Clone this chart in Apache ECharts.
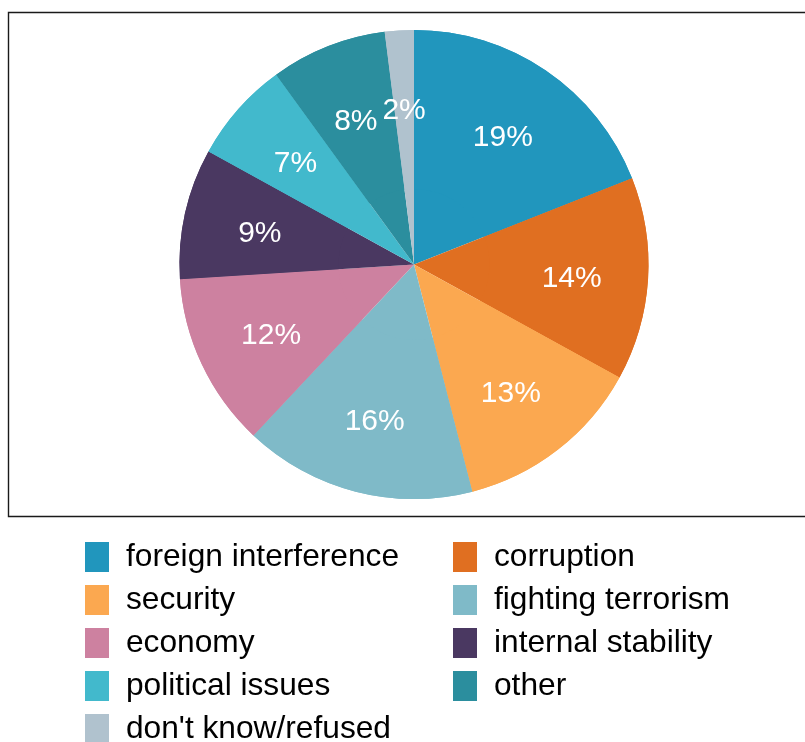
<!DOCTYPE html>
<html>
<head>
<meta charset="utf-8">
<script src="https://cdn.jsdelivr.net/npm/echarts@6/dist/echarts.min.js"></script>
<style>
  html, body { margin: 0; padding: 0; background: #ffffff; }
  #chart { width: 805px; height: 742px; }
</style>
</head>
<body>
<div id="chart"></div>
<script>
// Answer categories and their shares (percent), in slice order
const categories = [
  'foreign interference', 'corruption', 'security', 'fighting terrorism',
  'economy', 'internal stability', 'political issues', 'other', "don't know/refused"
];
const shares = [19, 14, 13, 16, 12, 9, 7, 8, 2];
const colors = [
  '#2196bd', '#e06f21', '#fba850', '#7fbac8',
  '#cd81a0', '#4a3861', '#42b9cc', '#2b8e9e', '#b0c2ce'
];
// Legend columns (filled row by row)
const legendLeft = ['foreign interference', 'security', 'economy', 'political issues', "don't know/refused"];
const legendRight = ['corruption', 'fighting terrorism', 'internal stability', 'other'];

const font = '"Liberation Sans", Arial, Helvetica, sans-serif';
const pieData = categories.map((name, i) => ({
  name: name,
  value: shares[i],
  itemStyle: { color: colors[i] }
}));

const legendBase = {
  orient: 'vertical',
  top: 541,
  height: 230,
  padding: 0,
  itemWidth: 24,
  itemHeight: 30,
  itemGap: 11,
  icon: 'rect',
  selectedMode: false,
  textStyle: {
    fontFamily: font, fontSize: 31.7,
    color: '#000000', padding: [0, 0, 0, 12]
  }
};

const chart = echarts.init(document.getElementById('chart'), null, { renderer: 'canvas' });
chart.setOption({
  animation: false,
  backgroundColor: '#ffffff',
  graphic: [{
    type: 'rect',
    shape: { x: 8.5, y: 12.5, width: 805, height: 504 },
    style: { fill: 'none', stroke: '#1a1a1a', lineWidth: 1.4 },
    silent: true,
    z: 10
  }],
  legend: [
    Object.assign({}, legendBase, { left: 85, data: legendLeft }),
    Object.assign({}, legendBase, { left: 453, data: legendRight })
  ],
  series: [
    {
      type: 'pie',
      center: [414, 264.5],
      radius: [0, 234.5],
      startAngle: 90,
      clockwise: true,
      data: pieData,
      label: { show: false },
      labelLine: { show: false },
      itemStyle: { borderWidth: 0 },
      emphasis: { disabled: true },
      silent: true
    },
    {
      // outer ring carrying the percentage labels at ~2/3 of the radius
      type: 'pie',
      center: [414, 264.5],
      radius: [75.5, 234.5],
      startAngle: 90,
      clockwise: true,
      data: pieData,
      avoidLabelOverlap: false,
      label: {
        show: true,
        position: 'inside',
        formatter: '{c}%',
        fontFamily: font,
        fontSize: 30,
        color: '#ffffff',
        textBorderWidth: 0,
        offset: [0, 4]
      },
      labelLine: { show: false },
      itemStyle: { borderWidth: 0 },
      emphasis: { disabled: true },
      silent: true
    }
  ]
});
</script>
</body>
</html>
